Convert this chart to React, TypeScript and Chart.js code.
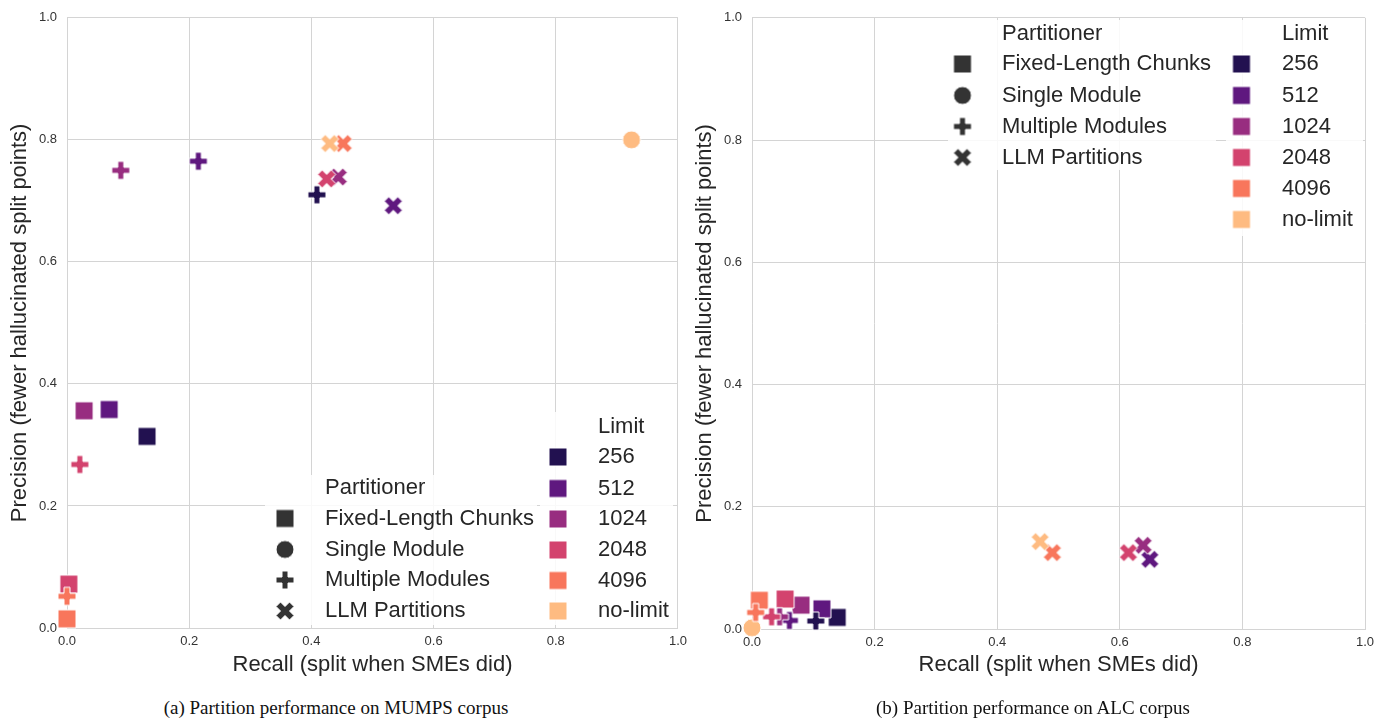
import React, { useEffect, useRef } from "react";
import { Chart, registerables } from "chart.js";

Chart.register(...registerables);

// ---------------- data ----------------
const LIMITS = ["256", "512", "1024", "2048", "4096", "no-limit"];
const LIMIT_COLORS = ["#221150", "#5f187f", "#982d80", "#d3436e", "#f8765c", "#febb81"];
const PARTITIONERS = ["Fixed-Length Chunks", "Single Module", "Multiple Modules", "LLM Partitions"];
const SHAPES = ["square", "circle", "plus", "x"];
const AXIS_TICKS = [0, 0.2, 0.4, 0.6, 0.8, 1.0];

// (a) MUMPS corpus — index follows LIMITS
const mumpsChunksRecall = [0.131, 0.069, 0.028, 0.003, 0.0, null];
const mumpsChunksPrecision = [0.314, 0.358, 0.356, 0.072, 0.015, null];
const mumpsSingleRecall = [null, null, null, null, null, 0.924];
const mumpsSinglePrecision = [null, null, null, null, null, 0.8];
const mumpsMultiRecall = [0.409, 0.215, 0.088, 0.021, 0.0, null];
const mumpsMultiPrecision = [0.71, 0.765, 0.75, 0.268, 0.052, null];
const mumpsLlmRecall = [null, 0.534, 0.444, 0.425, 0.452, 0.43];
const mumpsLlmPrecision = [null, 0.692, 0.739, 0.736, 0.794, 0.794];

// (b) ALC corpus
const alcChunksRecall = [0.139, 0.114, 0.08, 0.054, 0.012, null];
const alcChunksPrecision = [0.019, 0.033, 0.039, 0.049, 0.047, null];
const alcSingleRecall = [null, null, null, null, null, 0.0];
const alcSinglePrecision = [null, null, null, null, null, 0.002];
const alcMultiRecall = [0.104, 0.061, 0.045, 0.032, 0.006, null];
const alcMultiPrecision = [0.013, 0.014, 0.02, 0.02, 0.027, null];
const alcLlmRecall = [null, 0.649, 0.638, 0.614, 0.49, 0.47];
const alcLlmPrecision = [null, 0.114, 0.137, 0.125, 0.125, 0.143];

const X_TITLE = "Recall (split when SMEs did)";
const Y_TITLE = "Precision (fewer hallucinated split points)";
const CAPTION_A = "(a) Partition performance on MUMPS corpus";
const CAPTION_B = "(b) Partition performance on ALC corpus";

// ---------------- styling ----------------
const SANS = '"Liberation Sans", Arial, sans-serif';
const GRID = "#d4d4d4";
const TEXT = "#262626";
const MARKER = 18;

const markerCache: Record<string, HTMLCanvasElement> = {};
function makeMarker(shape: string, color: string, size: number): HTMLCanvasElement {
  const key = shape + color + size;
  if (markerCache[key]) return markerCache[key];
  const pad = 2;
  const S = Math.ceil(size + pad * 2);
  const c = document.createElement("canvas");
  c.width = S;
  c.height = S;
  const ctx = c.getContext("2d")!;
  const m = S / 2;
  ctx.beginPath();
  if (shape === "square") {
    ctx.rect(m - size / 2, m - size / 2, size, size);
  } else if (shape === "circle") {
    ctx.arc(m, m, size / 2, 0, Math.PI * 2);
  } else {
    const plus = [
      [-1, -3], [-1, -1], [-3, -1], [-3, 1], [-1, 1], [-1, 3],
      [1, 3], [1, 1], [3, 1], [3, -1], [1, -1], [1, -3],
    ].map(([a, b]) => [a / 6, b / 6]);
    const xs = [
      [-1, -2], [0, -1], [1, -2], [2, -1], [1, 0], [2, 1],
      [1, 2], [0, 1], [-1, 2], [-2, 1], [-1, 0], [-2, -1],
    ].map(([a, b]) => [a / 4, b / 4]);
    const pts = shape === "plus" ? plus : xs;
    pts.forEach(([a, b], i) => {
      const px = m + a * size;
      const py = m + b * size;
      if (i === 0) ctx.moveTo(px, py);
      else ctx.lineTo(px, py);
    });
    ctx.closePath();
  }
  ctx.fillStyle = color;
  ctx.fill();
  ctx.lineWidth = 1;
  ctx.strokeStyle = "#ffffff";
  ctx.stroke();
  markerCache[key] = c;
  return c;
}

type Series = (number | null)[];
function buildDatasets(recalls: Series[], precisions: Series[]) {
  return SHAPES.map((shape, si) => {
    const data: { x: number; y: number }[] = [];
    const styles: HTMLCanvasElement[] = [];
    LIMITS.forEach((_, li) => {
      const x = recalls[si][li];
      const y = precisions[si][li];
      if (x == null || y == null) return;
      data.push({ x, y });
      styles.push(makeMarker(shape, LIMIT_COLORS[li], MARKER));
    });
    return {
      label: PARTITIONERS[si],
      data,
      order: SHAPES.length - si,
      pointStyle: styles,
      pointRadius: 9,
      pointHoverRadius: 9,
      showLine: false,
      clip: 14,
    };
  });
}

type LegendPos = {
  partBox: number[];
  limBox: number[];
  partX: number;
  partTitleY: number;
  markerX: number;
  partRows: number[];
  limX: number;
  limTitleY: number;
  squareX: number;
  limRows: number[];
};

function legendPlugin(L: LegendPos) {
  return {
    id: "twoColumnLegend",
    afterDraw(chart: any) {
      const ctx = chart.ctx as CanvasRenderingContext2D;
      ctx.save();
      ctx.fillStyle = "rgba(255,255,255,0.85)";
      [L.partBox, L.limBox].forEach((b) => ctx.fillRect(b[0], b[1], b[2] - b[0], b[3] - b[1]));
      ctx.font = `22px ${SANS}`;
      ctx.fillStyle = TEXT;
      ctx.textBaseline = "middle";
      ctx.textAlign = "left";
      ctx.fillText("Partitioner", L.partX, L.partTitleY);
      PARTITIONERS.forEach((p, i) => {
        const img = makeMarker(SHAPES[i], "#333333", MARKER);
        ctx.drawImage(img, L.markerX - img.width / 2, L.partRows[i] - img.height / 2);
        ctx.fillStyle = TEXT;
        ctx.fillText(p, L.partX, L.partRows[i]);
      });
      ctx.fillText("Limit", L.limX, L.limTitleY);
      LIMITS.forEach((l, i) => {
        const img = makeMarker("square", LIMIT_COLORS[i], MARKER);
        ctx.drawImage(img, L.squareX - img.width / 2, L.limRows[i] - img.height / 2);
        ctx.fillStyle = TEXT;
        ctx.fillText(l, L.limX, L.limRows[i]);
      });
      ctx.restore();
    },
  };
}

function makeChart(
  canvas: HTMLCanvasElement,
  recalls: Series[],
  precisions: Series[],
  padTop: number,
  padRight: number,
  xAxisHeight: number,
  legend: LegendPos
) {
  const axisCommon = {
    type: "linear" as const,
    min: 0,
    max: 1,
    afterBuildTicks: (s: any) => {
      s.ticks = AXIS_TICKS.map((v) => ({ value: v }));
    },
    grid: { color: GRID, lineWidth: 1, drawTicks: false },
    border: { color: GRID, width: 1 },
  };
  return new Chart(canvas, {
    type: "scatter",
    data: { datasets: buildDatasets(recalls, precisions) as any },
    options: {
      animation: false,
      responsive: false,
      events: [],
      layout: { padding: { top: padTop, right: padRight, left: 0, bottom: 0 } },
      plugins: { legend: { display: false }, tooltip: { enabled: false } },
      scales: {
        x: {
          ...axisCommon,
          ticks: {
            padding: 6,
            color: "#333333",
            font: { family: SANS, size: 13 },
            callback: (v: any) => Number(v).toFixed(1),
          },
          title: {
            display: true,
            text: X_TITLE,
            color: TEXT,
            font: { family: SANS, size: 22 },
            padding: { top: 0, bottom: 12 },
          },
          afterFit: (s: any) => {
            s.height = xAxisHeight;
          },
        },
        y: {
          ...axisCommon,
          ticks: {
            padding: 10,
            color: "#333333",
            font: { family: SANS, size: 13 },
            callback: (v: any) => Number(v).toFixed(1),
          },
          title: {
            display: true,
            text: Y_TITLE,
            color: TEXT,
            font: { family: SANS, size: 22 },
            padding: { top: 7, bottom: 0 },
          },
          afterFit: (s: any) => {
            s.width = 67;
          },
        },
      },
    } as any,
    plugins: [legendPlugin(legend)],
  });
}

const RIGHT_OFFSET = 685;

export default function App() {
  const leftRef = useRef<HTMLCanvasElement>(null);
  const rightRef = useRef<HTMLCanvasElement>(null);

  useEffect(() => {
    const left = makeChart(
      leftRef.current!,
      [mumpsChunksRecall, mumpsSingleRecall, mumpsMultiRecall, mumpsLlmRecall],
      [mumpsChunksPrecision, mumpsSinglePrecision, mumpsMultiPrecision, mumpsLlmPrecision],
      17,
      0,
      62,
      {
        partBox: [265, 475, 537, 625],
        limBox: [540, 412, 673, 625],
        partX: 325,
        partTitleY: 488,
        markerX: 285,
        partRows: [518.5, 549.5, 580, 611],
        limX: 598,
        limTitleY: 426.5,
        squareX: 558,
        limRows: [457, 488.5, 519, 550, 580.5, 611],
      }
    );
    const o = RIGHT_OFFSET;
    const right = makeChart(
      rightRef.current!,
      [alcChunksRecall, alcSingleRecall, alcMultiRecall, alcLlmRecall],
      [alcChunksPrecision, alcSinglePrecision, alcMultiPrecision, alcLlmPrecision],
      15,
      25,
      61,
      {
        partBox: [948 - o, 20, 1216 - o, 170],
        limBox: [1226 - o, 20, 1363 - o, 236],
        partX: 1002 - o,
        partTitleY: 33.5,
        markerX: 962.5 - o,
        partRows: [64, 95.5, 126.5, 157.5],
        limX: 1282 - o,
        limTitleY: 33.5,
        squareX: 1241.5 - o,
        limRows: [64, 95.5, 126.5, 157.5, 188.5, 219.5],
      }
    );
    return () => {
      left.destroy();
      right.destroy();
    };
  }, []);

  const caption = (left: number, width: number): React.CSSProperties => ({
    position: "absolute",
    left,
    width,
    top: 696,
    height: 24,
    lineHeight: "24px",
    textAlign: "center",
    fontFamily: '"Liberation Serif", "Times New Roman", serif',
    fontSize: 19,
    color: "#111",
    whiteSpace: "nowrap",
  });

  return (
    <div style={{ position: "absolute", left: 0, top: 0, width: 1390, height: 719, background: "#fff", overflow: "hidden" }}>
      <canvas ref={leftRef} width={693} height={690} style={{ position: "absolute", left: 0, top: 0 }} />
      <canvas ref={rightRef} width={705} height={690} style={{ position: "absolute", left: RIGHT_OFFSET, top: 0 }} />
      <div style={caption(0, 672)}>{CAPTION_A}</div>
      <div style={caption(685, 696)}>{CAPTION_B}</div>
    </div>
  );
}
